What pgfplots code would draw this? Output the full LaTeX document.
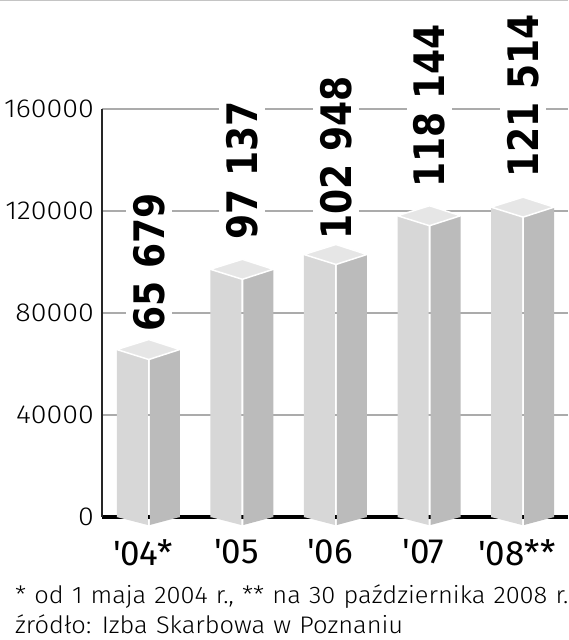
\documentclass[border=0pt]{standalone}
\usepackage{fontspec}
\usepackage{pgfplots}
\usepackage{pgfplotstable}
\pgfplotsset{compat=1.18}
\setmainfont{Fira Sans Light}
\newfontfamily\tickf{Fira Sans Light}[FakeStretch=1.1]
\newfontfamily\footf{Fira Sans Light}[FakeStretch=1.06, WordSpace=1.15]
\newfontfamily\regf{Fira Sans}[Ligatures=TeXOff]
\newfontfamily\valf{DejaVu Sans}[FakeStretch=0.86]

\definecolor{frontc}{HTML}{D7D7D7}
\definecolor{sidec}{HTML}{BBBBBB}
\definecolor{topc}{HTML}{E6E6E6}
\definecolor{gridc}{HTML}{ABABAB}

\pgfdeclareplotmark{bartop}{%
  \pgfpathmoveto{\pgfqpoint{-32pt}{0pt}}%
  \pgfpathlineto{\pgfqpoint{0pt}{10pt}}%
  \pgfpathlineto{\pgfqpoint{31pt}{0pt}}%
  \pgfpathlineto{\pgfqpoint{0pt}{-10pt}}%
  \pgfpathclose
  \pgfusepath{fill,stroke}}
\pgfdeclareplotmark{barbot}{%
  \pgfsetfillcolor{frontc}%
  \pgfpathmoveto{\pgfqpoint{-32pt}{0pt}}%
  \pgfpathlineto{\pgfqpoint{-1pt}{0pt}}%
  \pgfpathlineto{\pgfqpoint{-1pt}{-8pt}}%
  \pgfpathclose
  \pgfusepath{fill}%
  \pgfsetfillcolor{sidec}%
  \pgfpathmoveto{\pgfqpoint{1pt}{0pt}}%
  \pgfpathlineto{\pgfqpoint{31pt}{0pt}}%
  \pgfpathlineto{\pgfqpoint{1pt}{-8pt}}%
  \pgfpathclose
  \pgfusepath{fill}}

\pgfplotstableread{
x v base
1 65679 0
2 97137 0
3 102948 0
4 118144 0
5 121514 0
}\data

\begin{document}
\begin{tikzpicture}
\useasboundingbox (-102pt,-123pt) rectangle (466pt,517pt);
\draw[gridc!70, line width=1pt] (-102pt,516pt) -- (466pt,516pt);
\begin{axis}[
  at={(0,0)}, anchor=south west,
  scale only axis, width=466pt, height=408pt,
  xmin=0.5, xmax=5.48, ymin=0, ymax=160000,
  clip=false,
  axis x line*=bottom, axis y line*=left,
  x axis line style={line width=4pt, -},
  y axis line style={line width=1.3pt, draw=black!85, -},
  ytick={0,40000,80000,120000,160000},
  yticklabels={0,40000,80000,120000,160000},
  ymajorgrids, grid style={gridc, line width=1.3pt},
  major tick length=0pt,
  xtick={1,2,3,4,5},
  xticklabels={{'04*},{'05},{'06},{'07},{'08**}},
  scaled y ticks=false,
  yticklabel style={font=\tickf\fontsize{26}{26}\selectfont, inner xsep=8pt},
  xticklabel style={font=\regf\fontsize{35}{35}\selectfont, xshift=-6pt, yshift=-19pt},
]
\addplot[ybar, bar width=31pt, bar shift=-16.5pt, fill=frontc, draw=none] table[x=x, y=v] {\data};
\addplot[ybar, bar width=30pt, bar shift=16pt, fill=sidec, draw=none] table[x=x, y=v] {\data};
\addplot[only marks, mark=barbot] table[x=x, y=base] {\data};
\addplot[only marks, mark=bartop, mark options={fill=topc, draw=white, line width=1.5pt}] table[x=x, y=v] {\data};

\tikzset{vl/.style={rotate=90, anchor=west, fill=white, inner xsep=1pt, inner ysep=7pt, font=\valf\bfseries\fontsize{42}{42}\selectfont}}
\path (axis cs:1,65679) ++(0pt,16.5pt) node[vl] {65 679};
\path (axis cs:2,97137) ++(0pt,28.3pt) node[vl] {97 137};
\path (axis cs:3,102948) ++(0pt,13.5pt) node[vl] {102 948};
\path (axis cs:4,118144) ++(0pt,26.7pt) node[vl] {118 144};
\path (axis cs:5,121514) ++(0pt,28.1pt) node[vl] {121 514};
\end{axis}
\node[anchor=base west, inner sep=0pt, font=\footf\fontsize{24}{24}\selectfont] at (-87pt,-86pt) {* od 1 maja 2004 r., ** na 30 października 2008 r.};
\node[anchor=base west, inner sep=0pt, font=\footf\fontsize{24}{24}\selectfont] at (-87pt,-116pt) {źródło: Izba Skarbowa w Poznaniu};
\end{tikzpicture}
\end{document}
